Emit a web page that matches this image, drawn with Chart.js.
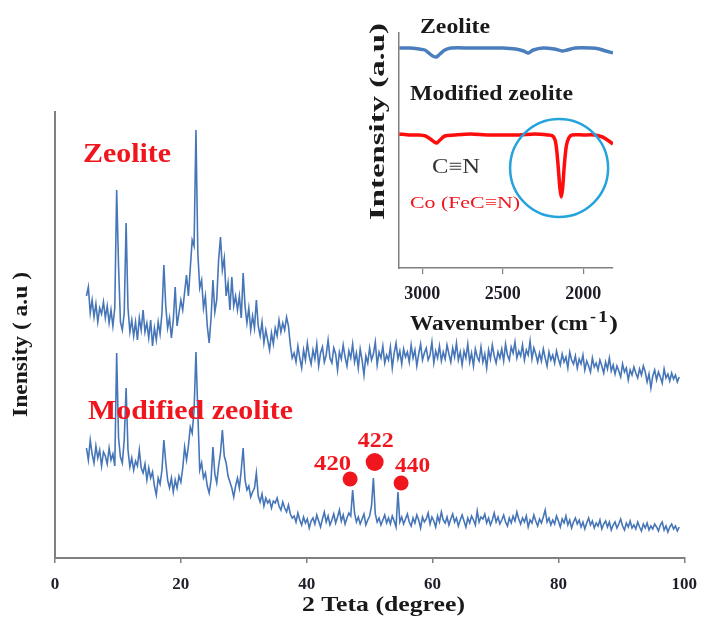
<!DOCTYPE html>
<html>
<head>
<meta charset="utf-8">
<title>XRD and FTIR of zeolite</title>
<script src="https://cdn.jsdelivr.net/npm/chart.js@4/dist/chart.umd.min.js"></script>
<style>
    html, body { margin: 0; padding: 0; background: #fff; }
    #wrap { position: relative; width: 708px; height: 617px; }
    #xrd { position: absolute; left: 0; top: 0; }
    #ftir { position: absolute; left: 340px; top: 0; }
</style>
</head>
<body>
<div id="wrap">
    <canvas id="xrd" width="708" height="617"></canvas>
    <canvas id="ftir" width="290" height="340"></canvas>
</div>
<script>
// XRD patterns: 2 theta from 5 deg in 0.3 deg steps, intensity in arbitrary units
const thetaStart = 5;
const thetaStep = 0.3;

const zeoliteXrd = [
    262, 271, 245, 258, 241, 254, 236, 250, 244, 256,
    240, 252, 235, 248, 232, 250, 368, 292, 236, 228,
    245, 335, 250, 226, 238, 222, 236, 218, 240, 228,
    248, 226, 235, 220, 238, 212, 230, 218, 236, 224,
    245, 293, 252, 230, 240, 220, 238, 271, 232, 245,
    258, 248, 266, 283, 262, 290, 318, 312, 428, 305,
    270, 278, 250, 262, 232, 215, 240, 278, 246, 258,
    298, 321, 288, 300, 262, 275, 248, 281, 252, 262,
    248, 262, 240, 285, 252, 235, 250, 228, 242, 230,
    258, 232, 222, 236, 215, 228, 218, 208, 225, 214,
    230, 222, 238, 226, 235, 228, 241, 232, 213, 200,
    205, 196, 212, 200, 190, 208, 198, 215, 202, 194,
    208, 199, 214, 192, 205, 211, 196, 203, 218, 200,
    195, 210, 204, 188, 206, 199, 213, 201, 192, 207,
    200, 214, 196, 205, 190, 209, 198, 183, 202, 195,
    210, 198, 204, 216, 193, 206, 200, 212, 195, 203,
    198, 211, 190, 205, 215, 199, 207, 194, 209, 201,
    206, 196, 213, 200, 208, 192, 204, 214, 198, 205,
    210, 198, 203, 216, 195, 207, 200, 212, 197, 206,
    199, 213, 204, 196, 210, 201, 215, 198, 206, 193,
    207, 200, 214, 196, 205, 192, 209, 201, 197, 211,
    196, 204, 190, 208, 199, 213, 202, 195, 206, 200,
    209, 197, 214, 203, 198, 211, 205, 216, 200, 207,
    202, 213, 198, 208, 203, 217, 199, 210, 204, 196,
    205, 197, 209, 200, 192, 206, 198, 203, 195, 207,
    199, 193, 204, 196, 201, 190, 206, 198, 194, 202,
    190, 199, 194, 203, 188, 197, 192, 186, 200, 191,
    195, 188, 198, 192, 185, 196, 189, 200, 187, 193,
    184, 192, 187, 181, 194, 186, 190, 178, 188, 183,
    191, 185, 180, 189, 183, 192, 186, 176, 184, 170,
    182, 188, 178, 186, 181, 175, 189, 180, 184, 177,
    185, 179, 183, 176, 181
];

const modifiedXrd = [
    110, 98, 118, 104, 95, 112, 100, 108, 92, 106,
    102, 94, 110, 98, 104, 92, 205, 120, 101, 95,
    118, 170, 108, 91, 100, 88, 97, 92, 108, 90,
    85, 94, 78, 90, 80, 86, 72, 63, 80, 74,
    88, 118, 96, 78, 70, 80, 66, 78, 70, 82,
    76, 90, 111, 98, 112, 131, 125, 148, 206, 145,
    88, 95, 80, 85, 72, 65, 78, 111, 84, 75,
    92, 105, 128, 102, 95, 82, 76, 70, 61, 72,
    80, 70, 88, 110, 78, 68, 72, 61, 66, 70,
    85, 62, 56, 64, 52, 60, 55, 58, 50, 57,
    55, 60, 52, 48, 56, 50, 46, 53, 44, 40,
    42, 36, 45, 38, 33, 41, 35, 39, 30, 37,
    40, 34, 43, 37, 31, 39, 46, 36, 42, 33,
    38, 44, 35, 41, 48, 37, 43, 34, 40, 45,
    42, 68, 45, 36, 41, 34, 39, 44, 33, 38,
    42, 52, 80, 44, 36, 40, 33, 38, 43, 35,
    40, 34, 42, 37, 31, 66, 36, 41, 34, 39,
    44, 36, 32, 40, 35, 43, 38, 30, 41, 36,
    39, 45, 34, 41, 37, 31, 42, 36, 46, 38,
    35, 41, 33, 39, 44, 36, 40, 32, 38, 43,
    37, 31, 40, 35, 42, 38, 33, 47, 36, 41,
    39, 44, 35, 40, 33, 38, 45, 36, 41, 34,
    38, 43, 36, 32, 40, 35, 42, 37, 46, 39,
    34, 40, 36, 42, 31, 38, 35, 43, 37, 32,
    39, 35, 41, 48, 36, 40, 33, 38, 34, 42,
    37, 31, 39, 35, 42, 33, 38, 30, 36, 40,
    34, 38, 31, 36, 29, 35, 40, 33, 37, 30,
    35, 32, 38, 29, 34, 37, 31, 36, 28, 33,
    36, 30, 34, 39, 32, 28, 35, 31, 37, 30,
    33, 29, 36, 31, 27, 34, 30, 35, 28, 32,
    29, 34, 31, 27, 33, 36, 28, 32, 26, 31,
    34, 29, 32, 27, 31
];

// Co-ferrite reflections marked on the modified pattern
const peakAngles = [46.9, 50.8, 55.0];
const peakMarkLevel = [79, 96, 75];
const peakLabels = ['420', '422', '440'];

const xrdTicks = [0, 20, 40, 60, 80, 100];

// FTIR inset (wavenumber in cm-1, transmittance in arbitrary units)
const zeoIrWn = [3143, 3080, 3020, 2985, 2960, 2935, 2913, 2890, 2860, 2820, 2700, 2600, 2500,
    2420, 2370, 2340, 2310, 2250, 2180, 2130, 2100, 2050, 1950, 1900, 1860, 1815];
const zeoIrVal = [220, 220, 219, 218, 215, 212, 211, 214, 218, 220, 220, 220, 220,
    219, 217, 215, 218, 220, 219, 217, 218, 220, 220, 219, 217, 215];

const modIrWn = [3143, 3080, 3020, 2980, 2950, 2925, 2910, 2890, 2860, 2800, 2700, 2600, 2500,
    2400, 2300, 2220, 2190, 2175, 2165, 2155, 2145, 2137, 2128, 2118, 2105, 2090, 2070,
    2000, 1930, 1880, 1850, 1815];
const modIrVal = [134, 133, 133, 132, 129, 126, 125, 128, 132, 133, 134, 133, 133,
    133, 134, 133, 132, 128, 118, 100, 80, 71, 80, 102, 122, 130, 133,
    133, 133, 131, 128, 124];

const irTicks = [2000, 2500, 3000];

const SERIF = '"Liberation Serif", "Times New Roman", "DejaVu Serif", serif';
const XRD_BLUE = '#4676b8';
const RED = '#f0161e';

// draw text squeezed/stretched to a measured width
function fitText(ctx, text, x, y, font, color, width, rotate) {
    ctx.save();
    ctx.font = font;
    ctx.fillStyle = color;
    ctx.textAlign = 'left';
    ctx.textBaseline = 'alphabetic';
    const w = ctx.measureText(text).width;
    ctx.translate(x, y);
    if (rotate) ctx.rotate(-Math.PI / 2);
    ctx.scale(width / w, 1);
    ctx.fillText(text, 0, 0);
    ctx.restore();
}

function toPoints(values) {
    return values.map((v, i) => ({ x: thetaStart + i * thetaStep, y: v }));
}

const xrdText = {
    id: 'xrdText',
    afterDraw(chart) {
        const ctx = chart.ctx;
        fitText(ctx, 'Zeolite', 83, 162, 'bold 27px ' + SERIF, RED, 88);
        fitText(ctx, 'Modified zeolite', 88, 419, 'bold 27px ' + SERIF, RED, 205);
        fitText(ctx, '2 Teta (degree)', 302, 611, 'bold 22px ' + SERIF, '#1a1a1a', 163);
        fitText(ctx, 'Inensity ( a.u )', 26.5, 417, 'bold 21px ' + SERIF, '#1a1a1a', 145, true);

        // reflection labels sit above their markers
        const xs = chart.scales.x, ys = chart.scales.y;
        const offs = [[-36, -9, 37], [-17, -15, 36], [-6, -11, 35]];
        peakLabels.forEach((lab, i) => {
            const px = xs.getPixelForValue(peakAngles[i]);
            const py = ys.getPixelForValue(peakMarkLevel[i]);
            fitText(ctx, lab, px + offs[i][0], py + offs[i][1], 'bold 22px ' + SERIF, RED, offs[i][2]);
        });
    }
};

new Chart(document.getElementById('xrd'), {
    type: 'line',
    data: {
        datasets: [
            {
                label: 'Zeolite',
                data: toPoints(zeoliteXrd),
                borderColor: XRD_BLUE,
                borderWidth: 1.6,
                pointRadius: 0,
                tension: 0
            },
            {
                label: 'Modified zeolite',
                data: toPoints(modifiedXrd),
                borderColor: XRD_BLUE,
                borderWidth: 1.6,
                pointRadius: 0,
                tension: 0
            },
            {
                label: 'Peaks',
                data: peakAngles.map((a, i) => ({ x: a, y: peakMarkLevel[i] })),
                showLine: false,
                pointRadius: [7.5, 9, 7.5],
                pointBackgroundColor: RED,
                pointBorderWidth: 0
            }
        ]
    },
    options: {
        responsive: false,
        animation: false,
        events: [],
        layout: { padding: { left: 55, right: 15, top: 112, bottom: 0 } },
        plugins: {
            legend: { display: false },
            tooltip: { enabled: false }
        },
        scales: {
            x: {
                type: 'linear',
                min: 0,
                max: 100,
                afterBuildTicks: s => { s.ticks = xrdTicks.map(v => ({ value: v })); },
                afterFit: s => { s.height = 59; },
                grid: { drawOnChartArea: false, drawTicks: true, tickLength: 5, color: '#808080', lineWidth: 1.5 },
                border: { color: '#808080', width: 2 },
                ticks: {
                    font: { family: SERIF, size: 17, weight: 'bold' },
                    color: '#1e1e28',
                    padding: 11,
                    maxRotation: 0,
                    autoSkip: false,
                    callback: v => String(v)
                }
            },
            y: {
                type: 'linear',
                min: 0,
                max: 446,
                afterFit: s => { s.width = 0; },
                grid: { display: false },
                border: { color: '#808080', width: 2 },
                ticks: { display: false }
            }
        }
    },
    plugins: [xrdText]
});

// FTIR inset
const ftirText = {
    id: 'ftirText',
    afterDraw(chart) {
        const ctx = chart.ctx;
        const ox = 340;
        fitText(ctx, 'Zeolite', 420 - ox, 33, 'bold 20px ' + SERIF, '#1a1a1a', 70);
        fitText(ctx, 'Modified zeolite', 410 - ox, 100, 'bold 20px ' + SERIF, '#1a1a1a', 163);
        fitText(ctx, 'C\u2261N', 432 - ox, 173, '21px ' + SERIF, '#333', 48);
        fitText(ctx, 'Co (FeC\u2261N)', 410 - ox, 208, '17px ' + SERIF, RED, 110);
        fitText(ctx, 'Intensity (a.u)', 384 - ox, 220, 'bold 20px ' + SERIF, '#1a1a1a', 197, true);
        fitText(ctx, 'Wavenumber (cm', 410 - ox, 330, 'bold 20px ' + SERIF, '#1a1a1a', 178);
        fitText(ctx, '-', 590 - ox, 322, 'bold 16px ' + SERIF, '#1a1a1a', 6);
        fitText(ctx, '1', 598 - ox, 322, 'bold 17px ' + SERIF, '#1a1a1a', 10);
        fitText(ctx, ')', 609 - ox, 330, 'bold 20px ' + SERIF, '#1a1a1a', 9);

        // circle around the cyanide band
        const xs = chart.scales.x, ys = chart.scales.y;
        ctx.save();
        ctx.strokeStyle = '#25a3dc';
        ctx.lineWidth = 2.5;
        ctx.beginPath();
        ctx.arc(xs.getPixelForValue(2150), ys.getPixelForValue(100), 49, 0, Math.PI * 2);
        ctx.stroke();
        ctx.restore();
    }
};

new Chart(document.getElementById('ftir'), {
    type: 'line',
    data: {
        datasets: [
            {
                label: 'Zeolite',
                data: zeoIrWn.map((w, i) => ({ x: w, y: zeoIrVal[i] })),
                borderColor: '#4a7ebd',
                borderWidth: 3.5,
                pointRadius: 0,
                tension: 0.3
            },
            {
                label: 'Modified zeolite',
                data: modIrWn.map((w, i) => ({ x: w, y: modIrVal[i] })),
                borderColor: '#ff0d0d',
                borderWidth: 3.5,
                pointRadius: 0,
                tension: 0.3
            }
        ]
    },
    options: {
        responsive: false,
        animation: false,
        events: [],
        layout: { padding: { left: 59, right: 17, top: 33, bottom: 0 } },
        plugins: {
            legend: { display: false },
            tooltip: { enabled: false }
        },
        scales: {
            x: {
                type: 'linear',
                reverse: true,
                min: 1815,
                max: 3145,
                afterBuildTicks: s => { s.ticks = irTicks.map(v => ({ value: v })); },
                afterFit: s => { s.height = 72; },
                grid: { drawOnChartArea: false, drawTicks: true, tickLength: 6, color: '#808080', lineWidth: 1.2 },
                border: { color: '#808080', width: 1.5 },
                ticks: {
                    font: { family: SERIF, size: 18, weight: 'bold' },
                    color: '#1e1e28',
                    padding: 10,
                    maxRotation: 0,
                    autoSkip: false,
                    callback: v => String(v)
                }
            },
            y: {
                type: 'linear',
                min: 0,
                max: 235,
                afterFit: s => { s.width = 0; },
                grid: { display: false },
                border: { color: '#808080', width: 1.5 },
                ticks: { display: false }
            }
        }
    },
    plugins: [ftirText]
});
</script>
</body>
</html>
